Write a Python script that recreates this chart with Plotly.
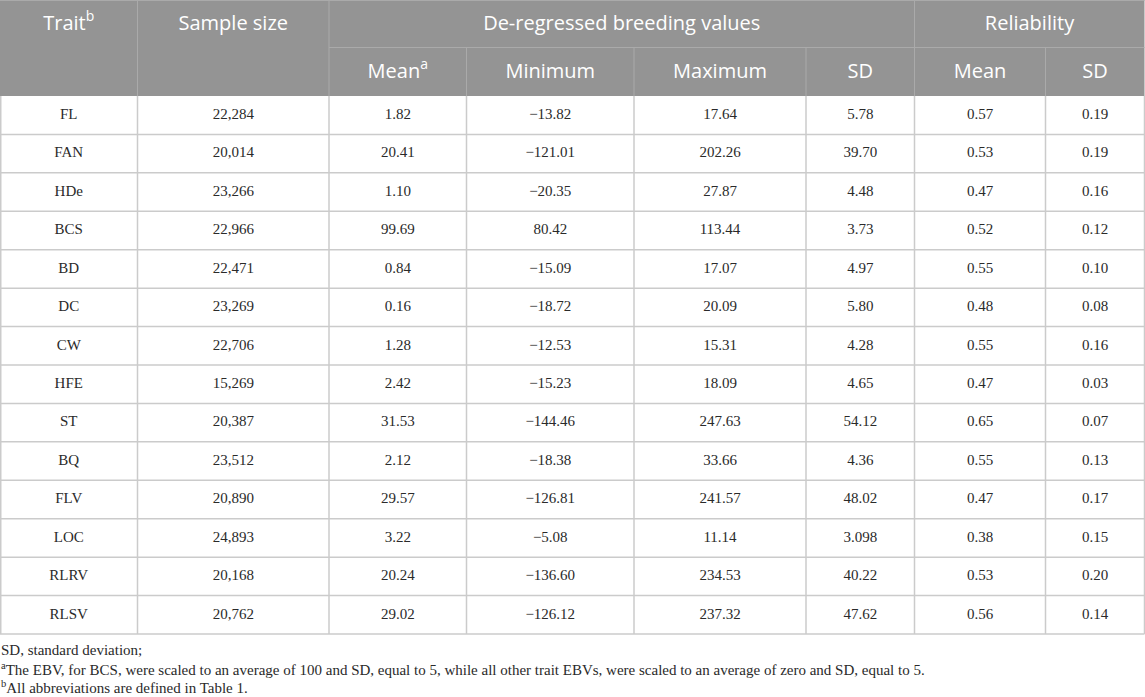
import plotly.graph_objects as go

traits = ["FL", "FAN", "HDe", "BCS", "BD", "DC", "CW", "HFE", "ST", "BQ", "FLV", "LOC", "RLRV", "RLSV"]
sample_size = [22284, 20014, 23266, 22966, 22471, 23269, 22706, 15269, 20387, 23512, 20890, 24893, 20168, 20762]
dbv_mean = [1.82, 20.41, 1.10, 99.69, 0.84, 0.16, 1.28, 2.42, 31.53, 2.12, 29.57, 3.22, 20.24, 29.02]
dbv_min = [-13.82, -121.01, -20.35, 80.42, -15.09, -18.72, -12.53, -15.23, -144.46, -18.38, -126.81, -5.08, -136.60, -126.12]
dbv_max = [17.64, 202.26, 27.87, 113.44, 17.07, 20.09, 15.31, 18.09, 247.63, 33.66, 241.57, 11.14, 234.53, 237.32]
dbv_sd = [5.78, 39.70, 4.48, 3.73, 4.97, 5.80, 4.28, 4.65, 54.12, 4.36, 48.02, 3.098, 40.22, 47.62]
rel_mean = [0.57, 0.53, 0.47, 0.52, 0.55, 0.48, 0.55, 0.47, 0.65, 0.55, 0.47, 0.38, 0.53, 0.56]
rel_sd = [0.19, 0.19, 0.16, 0.12, 0.10, 0.08, 0.16, 0.03, 0.07, 0.13, 0.17, 0.15, 0.20, 0.14]

top_headers = ["Trait<sup>b</sup>", "Sample size", "De-regressed breeding values", "Reliability"]
sub_headers = ["Mean<sup>a</sup>", "Minimum", "Maximum", "SD", "Mean", "SD"]
footnotes = [
    "SD, standard deviation;",
    "<sup>a</sup>The EBV, for BCS, were scaled to an average of 100 and SD, equal to 5, "
    "while all other trait EBVs, were scaled to an average of zero and SD, equal to 5.",
    "<sup>b</sup>All abbreviations are defined in Table 1.",
]

# layout in pixels
W, H = 1145, 697
edges = [0, 137.5, 329, 466.5, 634, 806, 914.5, 1045.5, 1144.5]
h1, h2 = 47.5, 96
row_h = (634 - h2) / len(traits)
HEAD = "#949494"
GRID = "#cbcbcb"
HGRID = "#aaaaaa"


def num(v):
    s = f"{abs(v):.2f}" if round(v, 2) == v else str(abs(v))
    return ("\u2212" if v < 0 else "") + s


centers = [(edges[i] + edges[i + 1]) / 2 for i in range(len(edges) - 1)]
row_y = [h2 + row_h * (i + 0.5) for i in range(len(traits))]

shapes = [dict(type="rect", x0=0, x1=edges[-1], y0=0, y1=h2, fillcolor=HEAD, line_width=0, layer="below")]
# header lines
for x in [edges[1], edges[2], edges[6]]:
    shapes.append(dict(type="line", x0=x, x1=x, y0=0, y1=h2, line=dict(color=HGRID, width=1)))
for x in [edges[3], edges[4], edges[5], edges[7]]:
    shapes.append(dict(type="line", x0=x, x1=x, y0=h1, y1=h2, line=dict(color=HGRID, width=1)))
shapes.append(dict(type="line", x0=edges[2], x1=edges[-1], y0=h1, y1=h1, line=dict(color=HGRID, width=1)))
shapes.append(dict(type="line", x0=0, x1=edges[-1], y0=0.5, y1=0.5, line=dict(color=HGRID, width=1)))
# body lines
for i in range(1, len(traits) + 1):
    y = h2 + row_h * i
    shapes.append(dict(type="line", x0=0, x1=edges[-1], y0=y, y1=y, line=dict(color=GRID, width=1.5)))
for x in [0.75] + edges[1:-1] + [edges[-1]]:
    shapes.append(dict(type="line", x0=x, x1=x, y0=h2, y1=634, line=dict(color=GRID, width=1.5)))

fig = go.Figure()

# header text
top_x = [centers[0], centers[1], (edges[2] + edges[6]) / 2, (edges[6] + edges[8]) / 2]
fig.add_trace(go.Scatter(x=top_x, y=[h1 / 2 + 1] * 4, mode="text", text=top_headers,
                         textfont=dict(family="Open Sans", size=20, color="white"),
                         hoverinfo="skip"))
fig.add_trace(go.Scatter(x=centers[2:], y=[(h1 + h2) / 2 + 1] * 6, mode="text", text=sub_headers,
                         textfont=dict(family="Open Sans", size=20, color="white"),
                         hoverinfo="skip"))

# body text
columns = [
    traits,
    [f"{v:,}" for v in sample_size],
    [num(v) for v in dbv_mean],
    [num(v) for v in dbv_min],
    [num(v) for v in dbv_max],
    [num(v) for v in dbv_sd],
    [num(v) for v in rel_mean],
    [num(v) for v in rel_sd],
]
for cx, col in zip(centers, columns):
    fig.add_trace(go.Scatter(x=[cx] * len(col), y=row_y, mode="text", text=col,
                             textfont=dict(family="Liberation Serif", size=15, color="#2a2a2a"),
                             hoverinfo="skip"))

foot_y = [650, 669, 687]
for y, t in zip(foot_y, footnotes):
    fig.add_annotation(x=0, y=y, text=t, showarrow=False, xanchor="left", yanchor="middle",
                       xref="x", yref="y", xshift=-1,
                       font=dict(family="Liberation Serif", size=15, color="#2a2a2a"))

fig.update_layout(
    width=W, height=H,
    margin=dict(l=0, r=0, t=0, b=0),
    paper_bgcolor="white", plot_bgcolor="white",
    showlegend=False,
    shapes=shapes,
    xaxis=dict(range=[0, W], visible=False, fixedrange=True),
    yaxis=dict(range=[H, 0], visible=False, fixedrange=True),
)

fig.write_html("out.html", config={"displayModeBar": False},
               post_script="document.body.style.margin='0';document.body.style.overflow='hidden';")
